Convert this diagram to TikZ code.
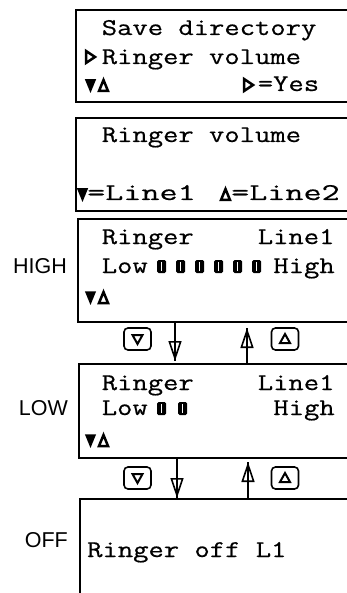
\documentclass[tikz,border=0pt]{standalone}
\usepackage{fontspec}
\usepackage{graphicx}
\newfontfamily\lblfont{Liberation Sans}
\newfontfamily\lcdf[FakeStretch=1.24,FakeBold=0.6]{Latin Modern Mono}
\usetikzlibrary{arrows.meta}
\newcommand{\lcdfont}{\lcdf\fontsize{24}{24}\selectfont}
\newcommand{\tdn}[2]{\draw[trif] (#1,#2) -- ++(9,0) -- ++(-4.5,11) -- cycle;}
\newcommand{\tup}[2]{\draw[tri] (#1,#2) -- ++(9,0) -- ++(-4.5,-11) -- cycle;}
\newcommand{\trt}[2]{\draw[tri] (#1,#2) -- ++(0,12) -- ++(9,-6) -- cycle;}
\tikzset{
  lcdbox/.style={inner sep=0, outer sep=0, draw=none},
  boxline/.style={line width=1.6pt},
  lcd/.style={inner sep=0, anchor=base west, font=\lcdfont},
  lbl/.style={inner sep=0, anchor=base east, font=\lblfont\fontsize{21.5}{21.5}\selectfont},
  tri/.style={line width=2.5pt, fill=white, line join=miter},
  trif/.style={line width=1.5pt, fill=black, line join=miter},
  btri/.style={line width=2pt, fill=white, line join=miter},
  blk/.style={fill=black, rounded corners=1.5pt, minimum width=9pt, minimum height=13pt, inner sep=0},
  btn/.style={draw, line width=1.6pt, rounded corners=4pt, minimum width=27pt, minimum height=22pt, inner sep=0},
  shaft/.style={line width=1.8pt},
  arr/.style={line width=1.8pt, -{Triangle[open, length=20pt, width=13pt, line width=1.6pt]}}
}
\begin{document}
\begin{tikzpicture}[x=1pt,y=-1pt]
\useasboundingbox (0,0) rectangle (347,593);
% boxes
\node[lcdbox, minimum width=271pt, minimum height=92pt] (box1) at (211.5,56) {};
\node[lcdbox, minimum width=271pt, minimum height=93pt] (box2) at (211.5,164.5) {};
\node[lcdbox, minimum width=269pt, minimum height=103pt] (box3) at (212.5,270.5) {};
\node[lcdbox, minimum width=268pt, minimum height=94pt] (box4) at (213,411) {};
\node[lcdbox, minimum width=267pt, minimum height=94pt] (box5) at (213.5,546) {};
\foreach \b in {box1,box2,box3,box4}
  \draw[boxline] (\b.north east) -- (\b.north west) -- (\b.south west) -- (\b.south east);
\draw[boxline] (box5.north east) -- (box5.north west) -- (box5.south west);
% box 1
\node[lcd] (t11) at (101.6,35) {Save directory};
\trt{86}{51}
\node[lcd] (t12) at (101.6,64) {Ringer volume};
\tdn{86}{80}
\tup{99}{91}
\trt{244}{79}
\node[lcd] (t13) at (257.6,91) {=Yes};
% box 2
\node[lcd] (t21) at (101.6,142) {Ringer volume};
\tdn{78}{189}
\node[lcd] (t22) at (87,200) {\scalebox{1.18}[1]{=Line1}};
\tup{221}{200}
\node[lcd] (t23) at (231,200) {\scalebox{1.18}[1]{=Line2}};
% box 3
\node[lbl] (lhigh) at (67,273) {HIGH};
\node[lcd] (t31) at (101.6,244) {Ringer};
\node[lcd] (t32) at (257.6,244) {Line1};
\node[lcd] (t33) at (101.6,273) {Low};
\node[lcd] (t34) at (273.2,273) {High};
\foreach \i in {0,...,5} {
  \node[blk] (hb\i) at (161.5+19*\i,266.5) {};
  \fill[white] ([shift={(-0.9,-4.5)}]hb\i.center) rectangle ([shift={(0.9,4.5)}]hb\i.center);
}
\tdn{86}{292}
\tup{99}{303}
% box 4
\node[lbl] (llow) at (68,415) {LOW};
\node[lcd] (t41) at (101.6,390) {Ringer};
\node[lcd] (t42) at (257.6,390) {Line1};
\node[lcd] (t43) at (101.6,415) {Low};
\node[lcd] (t44) at (273.2,415) {High};
\foreach \i in {0,1} {
  \node[blk] (lb\i) at (161.5+21*\i,408.5) {};
  \fill[white] ([shift={(-0.9,-4.5)}]lb\i.center) rectangle ([shift={(0.9,4.5)}]lb\i.center);
}
\tdn{86}{435}
\tup{99}{446}
% box 5
\node[lbl] (loff) at (68,547) {OFF};
\node[lcd] (t51) at (87,557) {Ringer off L1};
% buttons
\node[btn] (bt1) at (137.5,339) {};
\node[btn] (bt2) at (285,339) {};
\node[btn] (bt3) at (137.5,478) {};
\node[btn] (bt4) at (285,478) {};
\foreach \b in {bt1,bt3}
  \draw[btri] ([shift={(-5,-4)}]\b.center) -- ([shift={(5,-4)}]\b.center) -- ([shift={(0,5)}]\b.center) -- cycle;
\foreach \b in {bt2,bt4}
  \draw[btri] ([shift={(-5,4)}]\b.center) -- ([shift={(5,4)}]\b.center) -- ([shift={(0,-5)}]\b.center) -- cycle;
% arrows
\coordinate (xa) at (175,0);
\coordinate (xb) at (247,0);
\coordinate (xc) at (177,0);
\coordinate (xd) at (248,0);
\draw[shaft, shorten >=3pt] (xa |- box3.south) -- (xa |- box4.north);
\draw[arr, shorten >=3pt] (xa |- box3.south) -- (xa |- box4.north);
\draw[shaft, shorten >=6pt] (xb |- box4.north) -- (xb |- box3.south);
\draw[arr, shorten >=6pt] (xb |- box4.north) -- (xb |- box3.south);
\draw[shaft, shorten >=1pt] (xc |- box4.south) -- (xc |- box5.north);
\draw[arr, shorten >=1pt] (xc |- box4.south) -- (xc |- box5.north);
\draw[shaft, shorten >=4pt] (xd |- box5.north) -- (xd |- box4.south);
\draw[arr, shorten >=4pt] (xd |- box5.north) -- (xd |- box4.south);
\end{tikzpicture}
\end{document}
